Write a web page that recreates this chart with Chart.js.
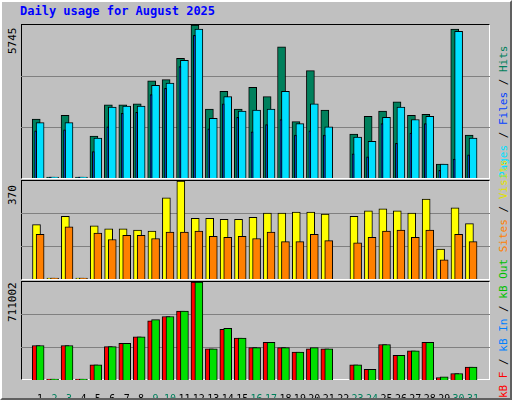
<!DOCTYPE html>
<html>
<head>
<meta charset="utf-8">
<script src="https://cdn.jsdelivr.net/npm/chart.js"></script>
<style>
  body { margin: 0; }
  #frame {
    position: relative; width: 512px; height: 400px; box-sizing: border-box;
    background: #c0c0c0; border-top: 2px solid #ffffff; border-left: 2px solid #ffffff;
    border-right: 2px solid #606060; border-bottom: 2px solid #606060;
    font-family: "DejaVu Sans Mono", monospace; overflow: hidden;
  }
  .panel {
    position: absolute; left: 19px; width: 469px; box-sizing: border-box;
    border-top: 1px solid #000; border-left: 1px solid #000;
    border-right: 1px solid #fff; border-bottom: 1px solid #fff;
  }
  .cv { position: absolute; left: 19px; width: 469px; }
  #title { position: absolute; left: 18px; top: 2px; color: #0000ff; font-weight: bold; font-size: 12px; }
  .up { position: absolute; transform-origin: left top; transform: rotate(-90deg); white-space: nowrap; font-size: 11px; }
</style>
</head>
<body>
<div id="frame">
  <div id="title">Daily usage for August 2025</div>
  <div class="panel" style="top:22px;height:155px"></div>
  <div class="panel" style="top:178px;height:100px"></div>
  <div class="panel" style="top:279px;height:99px"></div>
  <div class="cv" style="top:23px;height:153px"><canvas id="c1"></canvas></div>
  <div class="cv" style="top:179px;height:98px"><canvas id="c2"></canvas></div>
  <div class="cv" style="top:280px;height:117px"><canvas id="c3"></canvas></div>
  <div class="up" style="left:4px;top:52px">5745</div>
  <div class="up" style="left:4px;top:203px">370</div>
  <div class="up" style="left:4px;top:320px">711002</div>
  <div class="up" style="left:495px;top:176px"><span style="color:#00e0ff">Pages</span> / <span style="color:#0040ff">Files</span> / <span style="color:#00805c">Hits</span></div>
  <div class="up" style="left:495px;top:396px"><span style="color:#ff0000">kB F</span> / <span style="color:#0080ff">kB In</span> / <span style="color:#00c000">kB Out</span> <span style="color:#ff8000">Sites</span> / <span style="color:#e0e000">Visits</span></div>
</div>
<script>
var days = [];
for (var i = 1; i <= 31; i++) days.push(i);
var weekend = [2, 3, 9, 10, 16, 17, 23, 24, 30, 31];

var hits  = [2210,0,2353,0,1573,2743,2743,2782,3653,3692,4498,5745,2587,3250,2587,3406,3055,4927,2119,4030,2548,null,1651,2314,2509,2860,2353,2392,520,5590,1612];
var files = [2080,0,2080,0,1495,2665,2704,2704,3484,3562,4420,5590,2236,3055,2509,2548,2587,3250,2041,2782,1924,null,1534,1378,2275,2665,2197,2314,520,5512,1495];
var pages = [1768,0,1807,0,988,1924,2431,2470,3133,3367,4186,5356,1846,2782,2275,1729,2002,2197,1612,1768,1612,null,910,793,2041,1300,1690,2041,286,715,871];
var visits = [205,0,237,0,201,189,189,185,181,306,370,229,229,225,225,233,249,249,253,253,245,null,237,257,265,257,249,302,113,269,209];
var sites  = [169,0,197,0,173,149,165,165,153,177,177,181,161,157,161,153,177,141,141,169,145,null,137,157,181,185,157,185,72,169,141];
var kbF   = [250000,0,250000,0,109400,242200,265600,312500,430000,460900,500000,711002,226500,367000,304700,234400,273400,234400,203100,226500,226500,null,109400,78100,257800,179700,210900,273400,18000,46900,93700];
var kbOut = [250000,0,250000,0,109400,242200,265600,312500,437500,460900,500000,711002,226500,375000,304700,234400,273400,234400,203100,234400,226500,null,109400,78100,257800,179700,210900,273400,23400,46900,93700];
var maxes = [5745, 370, 711002];

function pts(vals, off) {
  return days.map(function (d, i) { return { x: d + off, y: vals[i] }; });
}
function ds(vals, off, color, w, ord) {
  return { data: pts(vals, off), backgroundColor: color, borderColor: '#000', borderWidth: 1,
           barThickness: w, grouped: false, order: ord, minBarLength: 1, borderSkipped: 'start' };
}
function make(id, sets, max, showX) {
  new Chart(document.getElementById(id), {
    type: 'bar',
    data: { datasets: sets },
    options: {
      responsive: true, maintainAspectRatio: false, animation: false,
      layout: { padding: 0 },
      plugins: { legend: { display: false }, tooltip: { enabled: false } },
      scales: {
        x: {
          type: 'linear', min: 0.2, max: 31.65, display: showX,
          grid: { display: false }, border: { display: false },
          afterBuildTicks: function (s) { s.ticks = days.map(function (d) { return { value: d }; }); },
          afterFit: function (s) { if (showX) s.height = 19; },
          ticks: {
            autoSkip: false, maxRotation: 0, padding: 5,
            font: { family: 'DejaVu Sans Mono', size: 10 },
            color: function (c) { return weekend.indexOf(c.tick.value) >= 0 ? '#00805c' : '#000'; },
            callback: function (v) { return String(v); }
          }
        },
        y: {
          min: 0, max: max,
          afterFit: function (s) { s.width = 0; },
          afterBuildTicks: function (s) { s.ticks = [{ value: max / 3 }, { value: 2 * max / 3 }]; },
          ticks: { display: false },
          grid: { color: '#808080', drawTicks: false, lineWidth: 1 },
          border: { display: false }
        }
      }
    }
  });
}

make('c1', [
  ds(pages, -0.31, '#0040ff', 2, 0),
  ds(files, 0, '#00e0ff', 8, 1),
  ds(hits, -0.27, '#00805c', 8, 2)
], maxes[0], false);
make('c2', [
  ds(sites, 0, '#ff8000', 8, 0),
  ds(visits, -0.25, '#ffff00', 8, 1)
], maxes[1], false);
make('c3', [
  ds(kbOut, 0, '#00e000', 8, 0),
  ds(kbF, -0.27, '#ff0000', 8, 1)
], maxes[2], true);
</script>
</body>
</html>
